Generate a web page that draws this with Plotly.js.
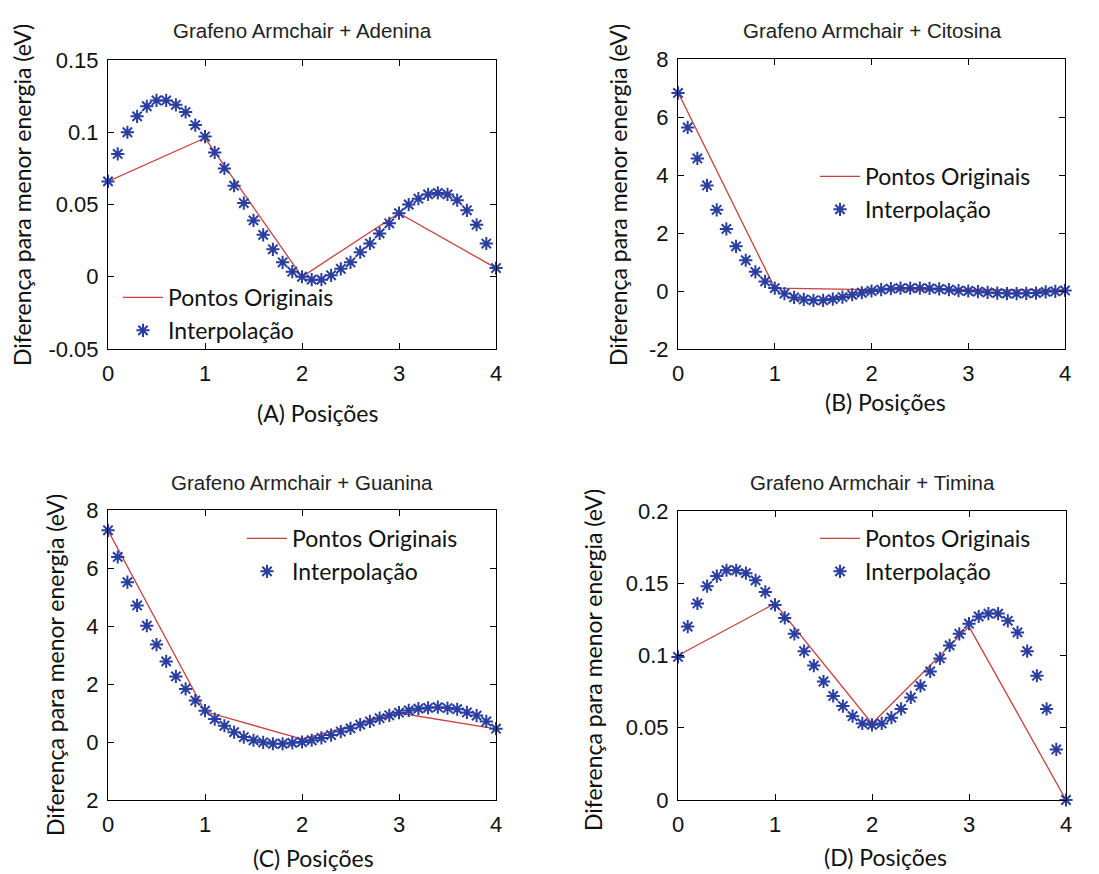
<!DOCTYPE html>
<html>
<head>
<meta charset="utf-8">
<script src="https://cdn.plot.ly/plotly-3.0.1.min.js"></script>
<style>html,body{margin:0;padding:0;background:#fff;}#chart{width:1099px;height:874px;}</style>
</head>
<body>
<div id="chart"></div>
<script>
// ---- data ----
var posOriginal = [0, 1, 2, 3, 4];
var posInterp = [0, 0.1, 0.2, 0.3, 0.4, 0.5, 0.6, 0.7, 0.8, 0.9,
  1, 1.1, 1.2, 1.3, 1.4, 1.5, 1.6, 1.7, 1.8, 1.9,
  2, 2.1, 2.2, 2.3, 2.4, 2.5, 2.6, 2.7, 2.8, 2.9,
  3, 3.1, 3.2, 3.3, 3.4, 3.5, 3.6, 3.7, 3.8, 3.9, 4];

var adeninaOrig = [0.066, 0.096, 0.0, 0.044, 0.006];
var adeninaInterp = [0.066, 0.085, 0.100, 0.111, 0.118, 0.122, 0.122, 0.119, 0.114, 0.105,
  0.097, 0.086, 0.075, 0.063, 0.051, 0.039, 0.029, 0.019, 0.010, 0.0035,
  0.0, -0.002, -0.002, 0.001, 0.0055, 0.010, 0.017, 0.023, 0.030, 0.037,
  0.044, 0.050, 0.054, 0.057, 0.058, 0.057, 0.053, 0.046, 0.036, 0.023, 0.006];

var citosinaOrig = [6.85, 0.1, 0.05, 0.05, 0.03];
var citosinaInterp = [6.83, 5.64, 4.57, 3.64, 2.80, 2.14, 1.54, 1.06, 0.66, 0.33,
  0.10, -0.09, -0.22, -0.29, -0.32, -0.32, -0.28, -0.21, -0.13, -0.06,
  0.0, 0.05, 0.08, 0.10, 0.10, 0.10, 0.09, 0.07, 0.05, 0.01,
  0.0, -0.02, -0.05, -0.07, -0.09, -0.09, -0.08, -0.07, -0.03, -0.01, 0.02];

var guaninaOrig = [7.3, 1.05, 0.1, 1.0, 0.45];
var guaninaInterp = [7.30, 6.38, 5.51, 4.71, 4.01, 3.36, 2.78, 2.26, 1.83, 1.43,
  1.08, 0.79, 0.56, 0.34, 0.17, 0.06, -0.01, -0.06, -0.06, -0.03,
  0.0, 0.06, 0.14, 0.24, 0.36, 0.47, 0.60, 0.71, 0.82, 0.92,
  1.01, 1.09, 1.15, 1.18, 1.20, 1.17, 1.13, 1.02, 0.91, 0.71, 0.46];

var timinaOrig = [0.1, 0.136, 0.053, 0.12, 0.0];
var timinaInterp = [0.099, 0.120, 0.136, 0.148, 0.155, 0.159, 0.159, 0.157, 0.152, 0.144,
  0.135, 0.126, 0.115, 0.103, 0.093, 0.082, 0.072, 0.065, 0.058, 0.053,
  0.052, 0.053, 0.057, 0.063, 0.071, 0.079, 0.089, 0.098, 0.107, 0.115,
  0.122, 0.127, 0.129, 0.129, 0.124, 0.116, 0.103, 0.086, 0.063, 0.035, 0.0];

var panelTitles = ["Grafeno Armchair + Adenina", "Grafeno Armchair + Citosina",
  "Grafeno Armchair + Guanina", "Grafeno Armchair + Timina"];
var xTitles = ["(A) Posições", "(B) Posições", "(C) Posições", "(D) Posições"];
var yTitle = "Diferença para menor energia (eV)";
var seriesNames = ["Pontos Originais", "Interpolação"];

var xTickVals = [0, 1, 2, 3, 4];
var xTickText = ["0", "1", "2", "3", "4"];
var yTickValsA = [-0.05, 0, 0.05, 0.1, 0.15];
var yTickTextA = ["-0.05", "0", "0.05", "0.1", "0.15"];
var yTickValsB = [-2, 0, 2, 4, 6, 8];
var yTickTextB = ["-2", "0", "2", "4", "6", "8"];
var yTickValsC = [-2, 0, 2, 4, 6, 8];
var yTickTextC = ["2", "0", "2", "4", "6", "8"];
var yTickValsD = [0, 0.05, 0.1, 0.15, 0.2];
var yTickTextD = ["0", "0.05", "0.1", "0.15", "0.2"];

// ---- styling ----
var W = 1099, H = 874;
var RED = "#c8413e", BLUE = "#2a3ea0";
var tickFont = {family: "Liberation Sans, Arial, sans-serif", size: 22, color: "#111"};
var labelFont = {family: "Lato, Open Sans, sans-serif", size: 23, color: "#111"};
var legFont = {family: "Lato, Open Sans, sans-serif", size: 23, color: "#111"};
var titleFont = {family: "Liberation Sans, Arial, sans-serif", size: 20.5, color: "#222"};

function px(x) { return x / W; }
function py(y) { return 1 - y / H; }

var panels = [
  {o: adeninaOrig, i: adeninaInterp, box: [108, 496, 60, 349], yr: [-0.05, 0.15], tv: yTickValsA, tt: yTickTextA,
   leg: [118, 276]},
  {o: citosinaOrig, i: citosinaInterp, box: [678, 1065, 59, 349], yr: [-2, 8], tv: yTickValsB, tt: yTickTextB,
   leg: [815, 155]},
  {o: guaninaOrig, i: guaninaInterp, box: [108, 496, 510, 800], yr: [-2, 8], tv: yTickValsC, tt: yTickTextC,
   leg: [242, 517]},
  {o: timinaOrig, i: timinaInterp, box: [678, 1066, 511, 800], yr: [0, 0.2], tv: yTickValsD, tt: yTickTextD,
   leg: [815, 517]}
];
var titlePos = [[302, 30], [872, 30], [302, 482], [872, 482]];
var xTitlePos = [[317, 413], [885, 402], [313, 858], [885, 857]];
var yTitlePos = [[22, 195], [618, 195], [55, 665], [593, 660]];

var data = [];
var layout = {
  width: W, height: H,
  margin: {l: 0, r: 0, t: 0, b: 0},
  paper_bgcolor: "#fff", plot_bgcolor: "#fff",
  annotations: [],
  showlegend: true
};

panels.forEach(function (p, k) {
  var n = k + 1;
  var xa = "x" + (n === 1 ? "" : n), ya = "y" + (n === 1 ? "" : n);
  var legName = "legend" + (n === 1 ? "" : n);
  data.push({
    x: posOriginal, y: p.o, xaxis: xa, yaxis: ya, type: "scatter", mode: "lines",
    name: seriesNames[0], legend: legName,
    line: {color: RED, width: 1.3}, cliponaxis: false
  });
  data.push({
    x: posInterp, y: p.i, xaxis: xa, yaxis: ya, type: "scatter", mode: "markers",
    name: seriesNames[1], legend: legName,
    marker: {symbol: "asterisk-open", size: 11, color: BLUE, line: {color: BLUE, width: 2}},
    cliponaxis: false
  });
  var axCommon = {
    showgrid: false, zeroline: false, showline: true, linecolor: "#000", linewidth: 1,
    mirror: "ticks", ticks: "inside", ticklen: 6, tickcolor: "#000", tickfont: tickFont
  };
  var xaxis = Object.assign({}, axCommon, {
    domain: [px(p.box[0]), px(p.box[1])], range: [0, 4], tickvals: xTickVals, ticktext: xTickText,
    anchor: ya, ticklabelstandoff: 5
  });
  var yaxis = Object.assign({}, axCommon, {
    domain: [py(p.box[3]), py(p.box[2])], range: p.yr, tickvals: p.tv, ticktext: p.tt,
    anchor: xa, ticklabelstandoff: 4
  });
  layout["xaxis" + (n === 1 ? "" : n)] = xaxis;
  layout["yaxis" + (n === 1 ? "" : n)] = yaxis;
  layout[legName] = {
    x: px(p.leg[0]), y: py(p.leg[1]), xanchor: "left", yanchor: "top",
    bgcolor: "rgba(0,0,0,0)", borderwidth: 0, font: legFont, itemwidth: 40, tracegroupgap: 0
  };
  layout.annotations.push({
    text: panelTitles[k], xref: "paper", yref: "paper", x: px(titlePos[k][0]), y: py(titlePos[k][1]),
    xanchor: "center", yanchor: "middle", showarrow: false, font: titleFont
  });
  layout.annotations.push({
    text: xTitles[k], xref: "paper", yref: "paper", x: px(xTitlePos[k][0]), y: py(xTitlePos[k][1]),
    xanchor: "center", yanchor: "middle", showarrow: false, font: labelFont
  });
  layout.annotations.push({
    text: yTitle, xref: "paper", yref: "paper", x: px(yTitlePos[k][0]), y: py(yTitlePos[k][1]),
    xanchor: "center", yanchor: "middle", showarrow: false, font: labelFont, textangle: -90
  });
});

Plotly.newPlot("chart", data, layout, {displayModeBar: false, staticPlot: true});
</script>
</body>
</html>
